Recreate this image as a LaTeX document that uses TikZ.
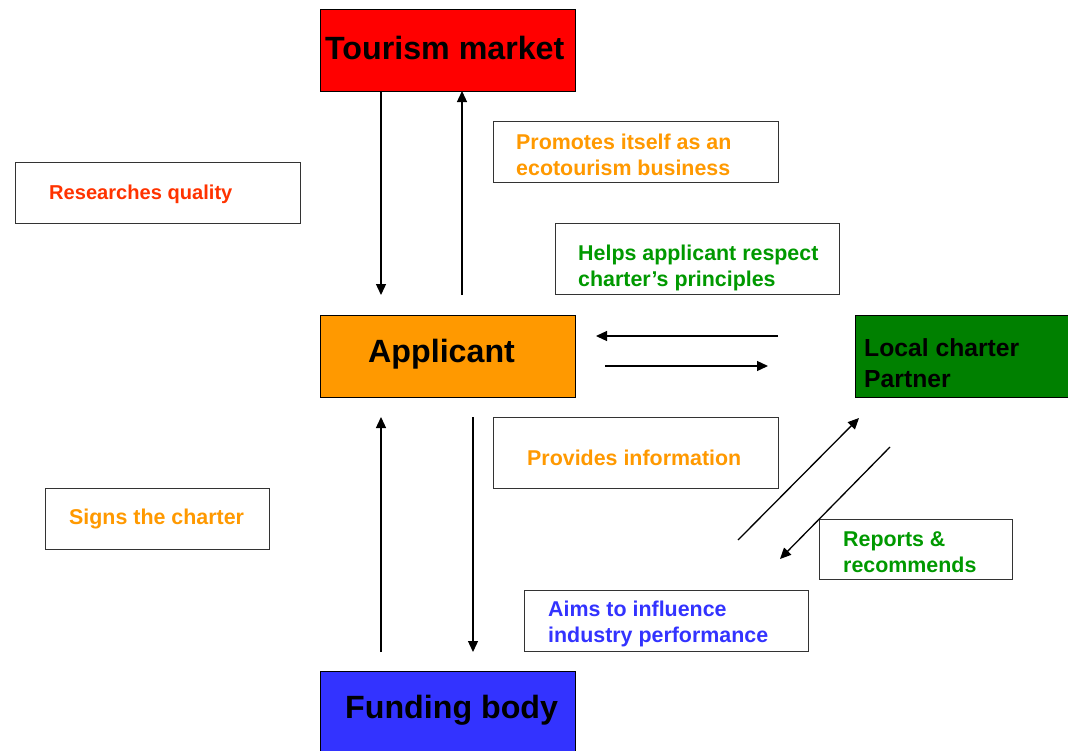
\documentclass[tikz,border=0pt]{standalone}
\usepackage{fontspec}
\setmainfont{Liberation Sans}
\usetikzlibrary{arrows.meta}
\definecolor{cRed}{HTML}{FF0000}
\definecolor{cOrange}{HTML}{FF9900}
\definecolor{cGreen}{HTML}{008000}
\definecolor{cBlue}{HTML}{3333FF}
\definecolor{tRed}{HTML}{FF3300}
\definecolor{tOrange}{HTML}{FF9900}
\definecolor{tGreen}{HTML}{009900}
\definecolor{tBlue}{HTML}{3333FF}
\begin{document}
\begin{tikzpicture}[x=1pt,y=-1pt,
  bigbox/.style={draw=black,line width=1.2pt,inner sep=0pt,anchor=north west},
  notebox/.style={draw=black!80,line width=1pt,fill=white,inner sep=0pt,anchor=north west},
  bigtxt/.style={font=\fontsize{32.2}{36}\selectfont\bfseries,inner sep=0pt,anchor=west},
  midtxt/.style={font=\fontsize{24.7}{31}\selectfont\bfseries,inner sep=0pt,anchor=west,align=left},
  smalltxt/.style={font=\fontsize{21.4}{26}\selectfont\bfseries,inner sep=0pt,anchor=west,align=left},
  arr/.style={line width=1.3pt,-{Triangle[length=11pt,width=10pt]}}]
\useasboundingbox (0,0) rectangle (1068,750);
% main boxes
\node[bigbox,fill=cRed,minimum width=255pt,minimum height=82pt] (tm) at (320,9) {};
\node[bigbox,fill=cOrange,minimum width=255pt,minimum height=82pt] (ap) at (320,315) {};
\node[bigbox,fill=cGreen,minimum width=220pt,minimum height=82pt] (lc) at (855,315) {};
\node[bigbox,fill=cBlue,minimum width=255pt,minimum height=90pt] (fb) at (320,671) {};
\node[bigtxt] (tmt) at (325,48) {Tourism market};
\node[bigtxt] (apt) at (368,354) {Applicant};
\node[midtxt] (lct) at (864,363) {Local charter\\Partner};
\node[bigtxt] (fbt) at (345,710) {Funding body};
% note boxes
\node[notebox,minimum width=285pt,minimum height=61pt] (rqb) at (15,162) {};
\node[smalltxt,font=\fontsize{20.1}{26}\selectfont\bfseries,text=tRed] (rq) at (49,194) {Researches quality};
\node[notebox,minimum width=285pt,minimum height=61pt] (prb) at (493,121) {};
\node[smalltxt,text=tOrange] (pr) at (516,155) {Promotes itself as an\\ecotourism business};
\node[notebox,minimum width=284pt,minimum height=71pt] (hpb) at (555,223) {};
\node[smalltxt,text=tGreen] (hp) at (578,268) {Helps applicant respect\\charter’s principles};
\node[notebox,minimum width=285pt,minimum height=71pt] (pib) at (493,417) {};
\node[smalltxt,text=tOrange] (pi) at (527,458) {Provides information};
\node[notebox,minimum width=224pt,minimum height=61pt] (scb) at (45,488) {};
\node[smalltxt,text=tOrange] (sc) at (69,519) {Signs the charter};
\node[notebox,minimum width=193pt,minimum height=60pt] (rrb) at (819,519) {};
\node[smalltxt,text=tGreen] (rr) at (843,552) {Reports \&\\recommends};
\node[notebox,minimum width=284pt,minimum height=61pt] (aib) at (524,590) {};
\node[smalltxt,text=tBlue] (ai) at (548,624) {Aims to influence\\industry performance};
% arrow end points
\coordinate (a1s) at (381,91); \coordinate (a1e) at (381,295);
\coordinate (a2s) at (462,295); \coordinate (a2e) at (462,91);
\coordinate (a3s) at (778,336); \coordinate (a3e) at (596,336);
\coordinate (a4s) at (605,366); \coordinate (a4e) at (768,366);
\coordinate (a5s) at (738,540); \coordinate (a5e) at (859,418);
\coordinate (a6s) at (890,447); \coordinate (a6e) at (780,559);
\coordinate (a7s) at (381,652); \coordinate (a7e) at (381,417);
\coordinate (a8s) at (473,417); \coordinate (a8e) at (473,652);
\draw[arr] (a1s) -- (a1e);
\draw[arr] (a2s) -- (a2e);
\draw[arr] (a3s) -- (a3e);
\draw[arr] (a4s) -- (a4e);
\draw[arr] (a5s) -- (a5e);
\draw[arr] (a6s) -- (a6e);
\draw[arr] (a7s) -- (a7e);
\draw[arr] (a8s) -- (a8e);
\end{tikzpicture}
\end{document}
